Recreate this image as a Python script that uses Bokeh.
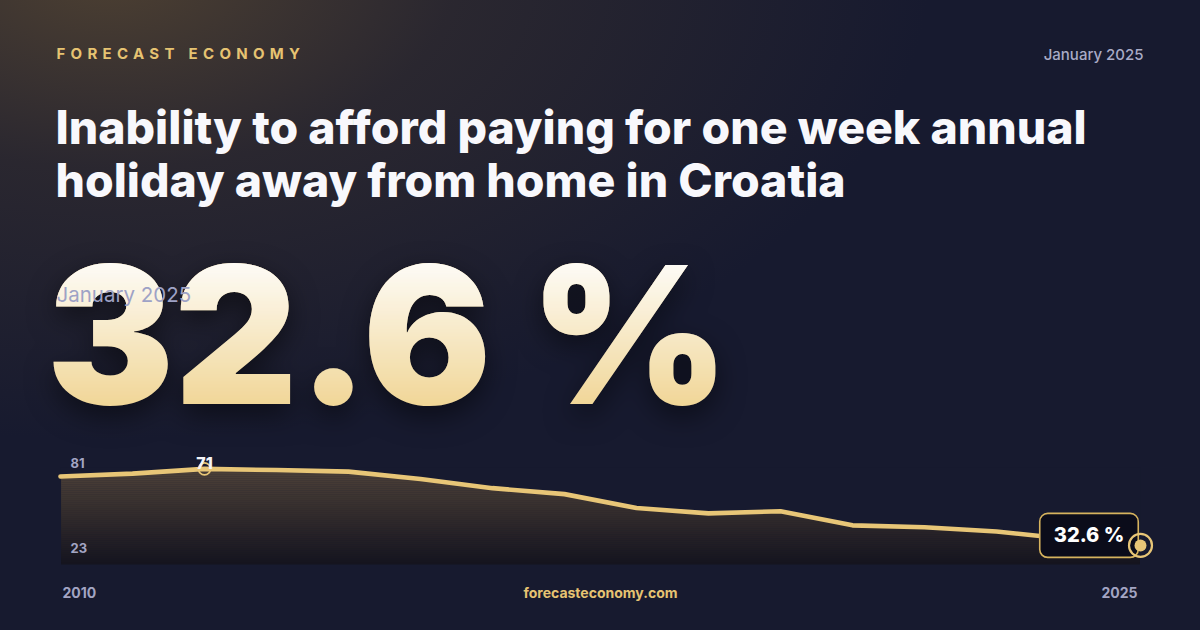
import numpy as np
from bokeh.plotting import figure
from bokeh.layouts import column
from bokeh.models import Label, Range1d, GlobalInlineStyleSheet, InlineStyleSheet
from bokeh.embed import file_html
from bokeh.resources import INLINE

# ---- data ----
years = list(range(2010, 2026))
values = [67.3, 68.7, 71.1, 70.5, 69.7, 66.0, 61.4, 58.4, 51.4, 48.7, 49.8, 42.7, 41.7, 39.6, 35.8, 32.6]
y_ticks = [23, 81]
x_tick_labels = ["2010", "2025"]
brand = "FORECAST ECONOMY"
date_label = "January 2025"
title_lines = ["Inability to afford paying for one week annual",
               "holiday away from home in Croatia"]
headline = "32.6 %"
site = "forecasteconomy.com"

# ---- style ----
W, H = 1200, 630
BG = "#171a2f"
GOLD = "#e8c677"
GREY = "#a3a5c3"
MEDIUM = "Inter Medium, Inter"
HEAVY = "Inter ExtraBold, Inter"
BLACK = "Inter Black, Inter"
PX_PER_YEAR = 72.0
X0_PX = 60.0          # canvas x of first year
PX_PER_UNIT = 1.988
Y0_PX = 66.0          # canvas y (from bottom) of lowest tick value

x_start = years[0] - X0_PX / PX_PER_YEAR
y_start = y_ticks[0] - Y0_PX / PX_PER_UNIT

css_global = GlobalInlineStyleSheet(css=f"""
html, body {{ background: {BG}; overflow: hidden; }}
""")
css_main = InlineStyleSheet(css=f"""
:host {{
  background:
    radial-gradient(ellipse 820px 470px at 110px -30px, rgba(80,66,50,0.95) 0%, rgba(58,50,48,0.55) 42%, rgba(23,26,47,0) 100%),
    {BG};
}}
""")


def overlay_css(left, top, extra=""):
    return InlineStyleSheet(css=f"""
:host {{ position: absolute !important; left: {left}px !important; top: {top}px !important;
        background: transparent; {extra} }}
""")


def blank(width, height, sheets):
    f = figure(width=width, height=height, output_backend="svg", toolbar_location=None,
               x_axis_type=None, y_axis_type=None, min_border=0,
               background_fill_color=None, border_fill_color=None, outline_line_color=None)
    f.grid.visible = False
    f.stylesheets = sheets
    return f


p = figure(width=W, height=H, output_backend="svg", toolbar_location=None,
           x_range=Range1d(x_start, x_start + W / PX_PER_YEAR),
           y_range=Range1d(y_start, y_start + H / PX_PER_UNIT),
           x_axis_type=None, y_axis_type=None, min_border=0,
           background_fill_color=None, border_fill_color=None,
           outline_line_color=None)
p.grid.visible = False
p.stylesheets = [css_global, css_main]

# ---- area fill with vertical gradient (bands), masked above the line ----
top = max(values)
levels = np.linspace(y_ticks[0], top, 49)
c_bot = np.array([21, 20, 31])
c_top = np.array([78, 66, 57])
cols = []
for i in range(len(levels) - 1):
    t = (0.5 * (levels[i] + levels[i + 1]) - y_ticks[0]) / (top - y_ticks[0])
    c = (c_bot + (c_top - c_bot) * t).astype(int)
    cols.append("#%02x%02x%02x" % tuple(c))
inset = 0.008
p.quad(left=years[0] + inset, right=years[-1] - inset, bottom=levels[:-1], top=levels[1:] + 0.2,
       fill_color=cols, line_color=None)
p.varea(x=years, y1=values, y2=[top + 0.8] * len(years), fill_color=BG)

# ---- line ----
p.line(years, values, line_color=GOLD, line_width=4.6, line_join="round", line_cap="round")

# ---- peak marker ----
ipk = int(np.argmax(values))
p.scatter([years[ipk]], [values[ipk]], size=12, fill_color=None,
          line_color=GOLD, line_width=1.6)
p.add_layout(Label(x=years[ipk], y=values[ipk], text=f"{round(values[ipk])}",
                   text_align="center", text_baseline="middle", y_offset=6,
                   text_font=HEAVY, text_font_style="bold", text_font_size="16px",
                   text_color="#f4f4f8"))

# ---- end label + marker ----
p.add_layout(Label(x=years[-1], y=values[-1], text=headline,
                   x_offset=-51.5, y_offset=10,
                   text_align="center", text_baseline="middle",
                   text_font=HEAVY, text_font_style="bold", text_font_size="20px",
                   text_color="#ffffff",
                   background_fill_color="#0b0c1a", background_fill_alpha=1.0,
                   border_line_color="#d6b35e", border_line_width=1.6,
                   border_radius=8, padding=dict(left=14, right=14, top=10, bottom=10)))
ring = p.scatter([years[-1]], [values[-1]], size=23, fill_color=None,
                 line_color=GOLD, line_width=2.2)
dot = p.scatter([years[-1]], [values[-1]], size=12, fill_color=GOLD, line_color=None)
ring.level = "overlay"
dot.level = "overlay"

# ---- axis-like labels ----
def dlabel(x, y, text, xo, yo, size, color, align="left"):
    p.add_layout(Label(x=x, y=y, text=text, x_offset=xo, y_offset=yo,
                       text_align=align, text_baseline="middle", text_font="Inter",
                       text_font_style="bold", text_font_size=f"{size}px", text_color=color))

dlabel(years[0], y_ticks[1], str(y_ticks[1]), 10, -14, 13, GREY)
dlabel(years[0], y_ticks[0], str(y_ticks[0]), 10, 17, 13, GREY)
dlabel(years[0], y_ticks[0], x_tick_labels[0], 2, -27.5, 14, GREY)
dlabel(years[-1], y_ticks[0], x_tick_labels[1], -3, -27.5, 14, GREY, align="right")

# ---- header texts (screen units, y measured from bottom) ----
def slabel(fig, fh, x, y_from_top, text, size, color, font="Inter", bold=True, align="left", alpha=1.0):
    fig.add_layout(Label(x=x, y=fh - y_from_top, x_units="screen", y_units="screen", text=text,
                         text_align=align, text_baseline="middle",
                         text_font=font, text_font_style="bold" if bold else "normal",
                         text_font_size=f"{size}px", text_color=color, text_alpha=alpha))

slabel(p, H, 1143, 54, date_label, 15, "#a9abc6", font=MEDIUM, bold=False, align="right")
slabel(p, H, 55, 126, title_lines[0], 46.4, "#f8f8fc", font=HEAVY)
slabel(p, H, 55, 179.5, title_lines[1], 46.4, "#f8f8fc", font=HEAVY)
slabel(p, H, 600, 592, site, 14, "#e6c372", align="center")

# ---- overlays: letter-spaced brand, gradient headline, date over headline ----
BR_TOP, BR_H = 30, 46
brand_fig = blank(360, BR_H, [overlay_css(0, BR_TOP, "letter-spacing: 5.3px;")])
slabel(brand_fig, BR_H, 56, 53 - BR_TOP, brand, 15, "#e6c372")

HL_TOP, HL_H = 198, 272
MASK = "linear-gradient(to bottom, #000 24%, rgba(0,0,0,0) 80%)"
gold_fig = blank(780, HL_H, [overlay_css(0, HL_TOP, "filter: drop-shadow(0px 10px 14px rgba(0,0,0,0.5));")])
slabel(gold_fig, HL_H, 46, 334 - HL_TOP, headline, 191, "#f0d491", font=BLACK)
white_fig = blank(780, HL_H, [overlay_css(0, HL_TOP,
    f"-webkit-mask-image: {MASK}; mask-image: {MASK};")])
slabel(white_fig, HL_H, 46, 334 - HL_TOP, headline, 191, "#fdfbf6", font=BLACK)

DT_TOP, DT_H = 272, 44
date_fig = blank(260, DT_H, [overlay_css(0, DT_TOP)])
slabel(date_fig, DT_H, 56, 294 - DT_TOP, date_label, 20.5, "#9ea2c6", bold=False)

layout = column(p, brand_fig, gold_fig, white_fig, date_fig, spacing=0)
layout.stylesheets = [InlineStyleSheet(css=":host { position: relative; width: 1200px; height: 630px; overflow: hidden; }")]

open("out.html", "w").write(file_html(layout, INLINE))
